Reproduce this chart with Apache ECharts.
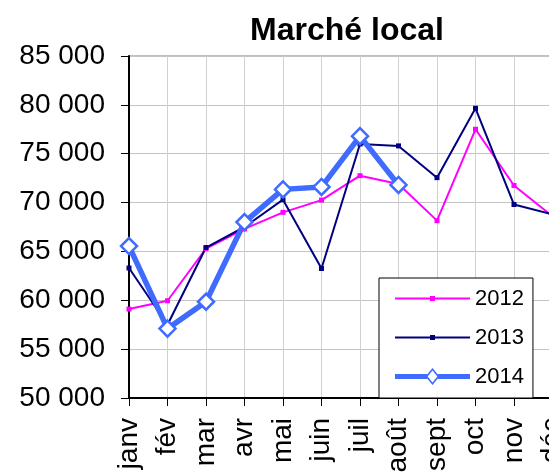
<!DOCTYPE html>
<html>
<head>
<meta charset="utf-8">
<script src="https://cdn.jsdelivr.net/npm/echarts@6/dist/echarts.min.js"></script>
<style>
html,body{margin:0;padding:0;background:#fff;}
#c{width:549px;height:473px;}
</style>
</head>
<body>
<div id="c"></div>
<script>
var categories = ['janv','fév','mar','avr','mai','juin','juil','août','sept','oct','nov','déc'];
var s2012 = [59100, 59950, 65300, 67300, 69000, 70250, 72750, 71900, 68150, 77500, 71750, 68600];
var s2013 = [63300, 57500, 65400, 67500, 70300, 63250, 76000, 75800, 72550, 79650, 69800, 68800];
var s2014 = [65550, 57100, 59850, 68000, 71350, 71600, 76800, 71800];
var yTicks = { min: 50000, max: 85000, interval: 5000 };

// legend icons (line + marker), drawn in a 75x17 box
var iconSmall = 'path://M0 0 L0 0 M75 17 L75 17 M0 7.5 L75 7.5 L75 9.5 L0 9.5 Z M35 6 L40 6 L40 11 L35 11 Z';
var iconDiamond = 'path://M0 6 L32 6 L32 11 L0 11 Z M43 6 L75 6 L75 11 L43 11 Z ' +
  'M37.5 0 L44.5 8.5 L37.5 17 L30.5 8.5 Z M37.5 2.4 L32.7 8.5 L37.5 14.6 L42.3 8.5 Z';

var chart = echarts.init(document.getElementById('c'));
var font = 'Liberation Sans, Arial, sans-serif';
chart.setOption({
  animation: false,
  backgroundColor: '#fff',
  title: {
    text: 'Marché local',
    left: 342,
    top: 10,
    textAlign: 'center',
    textStyle: { fontFamily: font, fontWeight: 'bold', fontSize: 32, color: '#000' }
  },
  grid: {
    left: 129, top: 56, right: -3.5, bottom: 75,
    containLabel: false,
    outerBoundsMode: 'none',
    show: true, borderColor: '#808080', borderWidth: 1, backgroundColor: 'transparent'
  },
  legend: {
    orient: 'vertical',
    left: 379, top: 278,
    padding: [9.5, 9, 10.5, 16],
    itemWidth: 75, itemHeight: 17, itemGap: 17,
    backgroundColor: '#fff',
    borderColor: '#000', borderWidth: 1,
    textStyle: { fontFamily: font, fontSize: 22, color: '#000', lineHeight: 17 },
    data: [
      { name: '2012', icon: iconSmall },
      { name: '2013', icon: iconSmall },
      { name: '2014', icon: iconDiamond, itemStyle: { color: '#3f6bff', borderWidth: 0 } }
    ]
  },
  xAxis: {
    type: 'category',
    data: categories,
    boundaryGap: false,
    axisLine: { lineStyle: { color: '#000', width: 2 } },
    axisTick: { show: true, length: 8, alignWithLabel: true, lineStyle: { color: '#000', width: 1 } },
    axisLabel: { rotate: 90, margin: 20, fontFamily: font, fontSize: 28, color: '#000', interval: 0 },
    splitLine: { show: true, lineStyle: { color: '#d0d0d0', width: 1 } }
  },
  yAxis: {
    type: 'value',
    min: yTicks.min, max: yTicks.max, interval: yTicks.interval,
    axisLine: { show: true, lineStyle: { color: '#000', width: 2 } },
    axisTick: { show: true, length: 8, lineStyle: { color: '#000', width: 1 } },
    axisLabel: {
      margin: 24, fontFamily: font, fontSize: 28, color: '#000',
      formatter: function (v) { return String(v).replace(/\B(?=(\d{3})+(?!\d))/g, ' '); }
    },
    splitLine: { show: true, lineStyle: { color: '#c4c4c4', width: 1 } }
  },
  series: [
    {
      name: '2012', type: 'line', data: s2012,
      symbol: 'rect', symbolSize: 5,
      lineStyle: { color: '#ff00ff', width: 2 },
      itemStyle: { color: '#ff00ff' }
    },
    {
      name: '2013', type: 'line', data: s2013,
      symbol: 'rect', symbolSize: 5,
      lineStyle: { color: '#000080', width: 2 },
      itemStyle: { color: '#000080' }
    },
    {
      name: '2014', type: 'line', data: s2014,
      symbol: 'diamond', symbolSize: 16,
      lineStyle: { color: '#3f6bff', width: 5.5 },
      itemStyle: { color: '#fff', borderColor: '#3f6bff', borderWidth: 2.5 }
    }
  ]
});
</script>
</body>
</html>
